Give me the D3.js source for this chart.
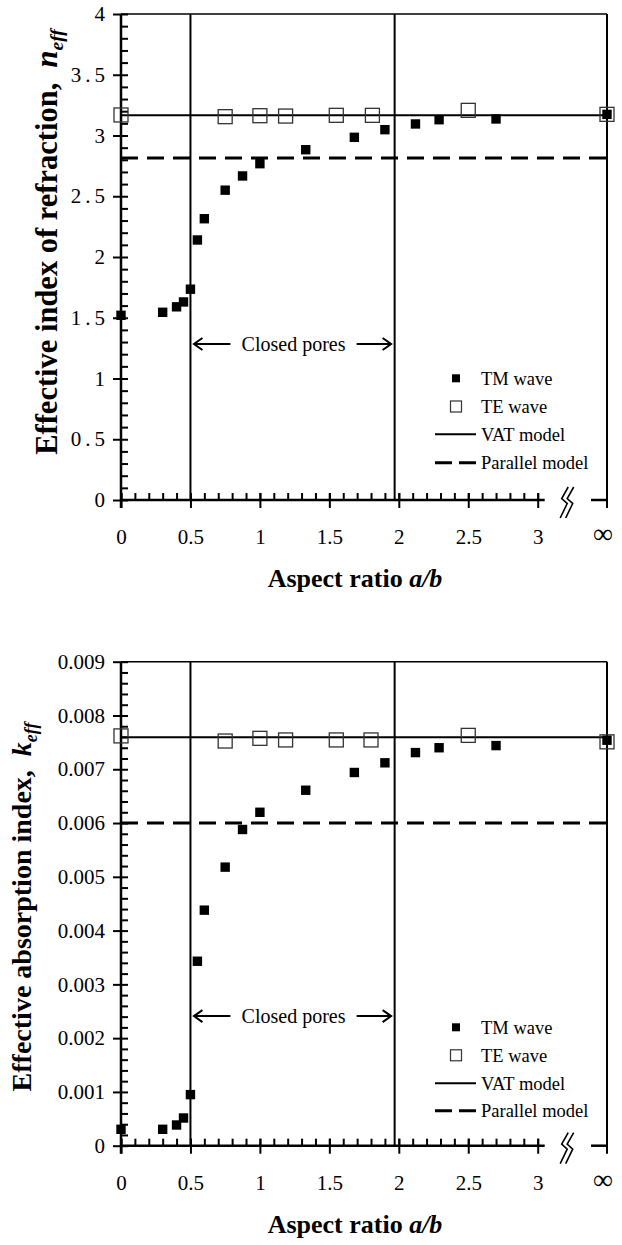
<!DOCTYPE html>
<html><head><meta charset="utf-8">
<script src="https://cdn.jsdelivr.net/npm/d3@7"></script>
<style>
body{margin:0;background:#fff}
svg{display:block}
text{font-family:"Liberation Serif","Times New Roman",serif;fill:#000}
</style>
</head><body>
<svg id="c" width="622" height="1245" font-family="Liberation Serif, Times New Roman, serif"></svg>
<script>
const INF = Infinity;
const FONT = "Liberation Serif, Times New Roman, serif";
// shared x axis
const xMajorTicks = [0, 0.5, 1, 1.5, 2, 2.5, 3];
const xTickLabels = ["0", "0.5", "1", "1.5", "2", "2.5", "3"];
const infLabel = "\u221E";
const closedPoresBounds = [0.5, 1.97];
const legendLabels = ["TM wave", "TE wave", "VAT model", "Parallel model"];

// top chart: effective index of refraction n_eff
const nTmX = [0, 0.3, 0.4, 0.45, 0.5, 0.55, 0.6, 0.75, 0.875, 1, 1.33, 1.68, 1.9, 2.12, 2.29, 2.7, INF];
const nTmY = [1.52, 1.545, 1.59, 1.63, 1.735, 2.14, 2.315, 2.55, 2.667, 2.768, 2.883, 2.985, 3.048, 3.095, 3.13, 3.136, 3.174];
const nTeX = [0, 0.75, 1, 1.185, 1.55, 1.81, 2.5, INF];
const nTeY = [3.169, 3.155, 3.163, 3.16, 3.166, 3.166, 3.207, 3.174];
const nVat = 3.167;
const nParallel = 2.815;
const nYTicks = [0, 0.5, 1, 1.5, 2, 2.5, 3, 3.5, 4];
const nYTickLabels = ["0", "0.5", "1", "1.5", "2", "2.5", "3", "3.5", "4"];

// bottom chart: effective absorption index k_eff
const kTmX = [0, 0.3, 0.4, 0.45, 0.5, 0.55, 0.6, 0.75, 0.875, 1, 1.33, 1.68, 1.9, 2.12, 2.29, 2.7, INF];
const kTmY = [0.000305, 0.000305, 0.000385, 0.000515, 0.00095, 0.00343, 0.00438, 0.00518, 0.00588, 0.0062, 0.00661, 0.00694, 0.00712, 0.00731, 0.0074, 0.00744, 0.00754];
const kTeX = [0, 0.75, 1, 1.185, 1.55, 1.8, 2.5, INF];
const kTeY = [0.00762, 0.007525, 0.007575, 0.007545, 0.007545, 0.007545, 0.00763, 0.00751];
const kVat = 0.007594;
const kParallel = 0.006;
const kYTicks = [0, 0.001, 0.002, 0.003, 0.004, 0.005, 0.006, 0.007, 0.008, 0.009];
const kYTickLabels = ["0", "0.001", "0.002", "0.003", "0.004", "0.005", "0.006", "0.007", "0.008", "0.009"];

const svg = d3.select("#c");

function chart(o) {
  const x = d3.scaleLinear().domain([0, 3]).range([121, 537.7]);
  const xInf = x(3) + 69.3;
  const xp = v => v === INF ? xInf : x(v);
  const y = d3.scaleLinear().domain(o.yDomain).range(o.yRange);
  const y0 = y(o.yDomain[0]), yTop = y(o.yDomain[1]);
  const g = svg.append("g").attr("font-family", FONT);
  const line = (x1, y1, x2, y2, w) => g.append("line").attr("x1", x1).attr("y1", y1).attr("x2", x2).attr("y2", y2)
      .attr("stroke", "#000").attr("stroke-width", w);

  // frame
  line(x(0), yTop, xInf, yTop, 1.6);
  line(xInf, yTop, xInf, y0 + 8, 2);
  // closed pores bounds
  closedPoresBounds.forEach(v => line(x(v), yTop, x(v), y0, 2));
  // VAT model
  line(x(0), y(o.vat), xInf, y(o.vat), 2);
  // parallel model
  line(x(0), y(o.parallel), xInf, y(o.parallel), 3).attr("stroke-dasharray", "17,9");

  // x axis minor ticks (inward)
  const minorX = d3.range(0, 31).map(i => i / 10);
  g.append("g").attr("transform", `translate(0,${y0})`)
    .call(d3.axisTop(x).tickValues(minorX).tickSize(7).tickFormat(""))
    .call(a => a.select(".domain").remove())
    .selectAll("line").attr("stroke-width", 2);
  const xa = g.append("g").attr("transform", `translate(0,${y0})`)
    .call(d3.axisBottom(x).tickValues(xMajorTicks).tickSize(8).tickPadding(21).tickFormat((d, i) => xTickLabels[i]));
  xa.attr("font-family", FONT).attr("font-size", 21);
  xa.select(".domain").remove();
  xa.selectAll("line").attr("stroke-width", 2).attr("y1", -7);
  xa.selectAll("text").attr("font-size", 21).attr("font-family", FONT);
  // x axis line
  line(x(0), y0, x(3) + 7, y0, 2.5);
  line(xInf - 16, y0, xInf, y0, 2.5);
  g.append("text").attr("x", xInf - 4).attr("y", y0 + 43).attr("text-anchor", "middle")
    .attr("font-size", 28).attr("font-family", FONT).text(infLabel);
  // break marks
  const bx = x(3) + 29, by = y0;
  [0, 5.5].forEach(dx => {
    g.append("path").attr("fill", "none").attr("stroke", "#000").attr("stroke-width", 1.6)
      .attr("d", `M${bx + dx + 1.5},${by - 13} L${bx + dx - 5},${by - 1.5} L${bx + dx + 0.5},${by + 3.5} L${bx + dx - 6.5},${by + 18}`);
  });

  // y axis
  g.append("g").attr("transform", `translate(${x(0)},0)`)
    .call(d3.axisRight(y).tickValues(o.yMinor).tickSize(7).tickFormat(""))
    .call(a => a.select(".domain").remove())
    .selectAll("line").attr("stroke-width", 2);
  const ya = g.append("g").attr("transform", `translate(${x(0)},0)`)
    .call(d3.axisLeft(y).tickValues(o.yTicks).tickSize(8).tickPadding(8).tickFormat((d, i) => o.yTickLabels[i]));
  ya.attr("font-family", FONT).attr("font-size", 21);
  ya.select(".domain").remove();
  ya.selectAll("line").attr("stroke-width", 2);
  ya.selectAll("text").attr("font-size", 21).attr("font-family", FONT);
  if (o.wideDecimals) {
    ya.selectAll("text").filter(t => String(t).includes(".")).attr("letter-spacing", 4).attr("x", -12);
  }
  line(x(0), y0 + 8, x(0), yTop, 2.5);

  // markers
  const te = o.teX.map((v, i) => [v, o.teY[i]]);
  const tm = o.tmX.map((v, i) => [v, o.tmY[i]]);
  g.selectAll(".te").data(te).join("rect").attr("class", "te")
    .attr("x", d => xp(d[0]) - 7).attr("y", d => y(d[1]) - 7).attr("width", 14).attr("height", 14)
    .attr("fill", "none").attr("stroke", "#333").attr("stroke-width", 1.3);
  g.selectAll(".tm").data(tm).join("rect").attr("class", "tm")
    .attr("x", d => xp(d[0]) - 4.7).attr("y", d => y(d[1]) - 4.7).attr("width", 9.4).attr("height", 9.4)
    .attr("fill", "#000");

  // closed pores annotation
  const ay = y(o.arrowY);
  const xl = x(closedPoresBounds[0]), xr = x(closedPoresBounds[1]);
  const arrow = (tail, tip) => {
    const s = Math.sign(tail - tip);
    g.append("path").attr("fill", "none").attr("stroke", "#000").attr("stroke-width", 2)
      .attr("d", `M${tail},${ay} L${tip + s},${ay} M${tip + s * 10},${ay - 6} L${tip + s * 1.5},${ay} L${tip + s * 10},${ay + 6}`);
  };
  arrow(xl + 40, xl + 2);
  arrow(xr - 38, xr - 2);
  g.append("text").attr("x", (xl + xr) / 2 + 1).attr("y", ay).attr("dy", "0.35em").attr("text-anchor", "middle")
    .attr("font-size", 20).attr("font-family", FONT).text("Closed pores");

  // legend
  const lx = 456;
  o.legendY.forEach((ly, i) => {
    const yy = y0 + ly;
    if (i === 0) g.append("rect").attr("x", lx - 4).attr("y", yy - 4).attr("width", 8).attr("height", 8).attr("fill", "#000");
    if (i === 1) g.append("rect").attr("x", lx - 5.5).attr("y", yy - 5.5).attr("width", 11).attr("height", 11)
      .attr("fill", "none").attr("stroke", "#333").attr("stroke-width", 1.2);
    if (i === 2) line(lx - 21, yy, lx + 20, yy, 2);
    if (i === 3) line(lx - 21, yy, lx + 20, yy, 3).attr("stroke-dasharray", "17,7");
    g.append("text").attr("x", lx + 25).attr("y", yy).attr("dy", "0.35em").attr("font-size", 18.5)
      .attr("font-family", FONT).text(legendLabels[i]);
  });

  // axis titles
  const xt = g.append("text").attr("x", 355).attr("y", y0 + 87).attr("text-anchor", "middle")
    .attr("font-size", 26).attr("font-weight", "bold").attr("font-family", FONT);
  xt.append("tspan").text("Aspect ratio ");
  xt.append("tspan").attr("font-style", "italic").text("a/b");

  const yt = g.append("text").attr("transform", `translate(${o.titleX},${o.titleY}) rotate(-90)`)
    .attr("text-anchor", "middle").attr("font-size", o.titleSize).attr("font-weight", "bold").attr("font-family", FONT);
  yt.append("tspan").text(o.titleText + "\u00A0 ");
  yt.append("tspan").attr("font-style", "italic").text(o.titleSym);
  yt.append("tspan").attr("font-style", "italic").attr("font-size", o.titleSize * 0.64).attr("dy", 6).text("eff");
}

chart({
  yDomain: [0, 4], yRange: [500, 14],
  yTicks: nYTicks, yTickLabels: nYTickLabels, yMinor: d3.range(0, 41).map(i => i / 10),
  tmX: nTmX, tmY: nTmY, teX: nTeX, teY: nTeY, vat: nVat, parallel: nParallel,
  arrowY: 1.284, legendY: [-121.7, -93.5, -65.7, -37.3],
  titleX: 57, titleY: 242, titleSize: 30.5, titleText: "Effective index of refraction,", titleSym: "n",
  wideDecimals: true
});
chart({
  yDomain: [0, 0.009], yRange: [1145.7, 661.7],
  yTicks: kYTicks, yTickLabels: kYTickLabels, yMinor: d3.range(0, 46).map(i => i * 0.0002),
  tmX: kTmX, tmY: kTmY, teX: kTeX, teY: kTeY, vat: kVat, parallel: kParallel,
  arrowY: 0.00241, legendY: [-118.4, -90.4, -62.4, -35],
  titleX: 31, titleY: 907, titleSize: 28, titleText: "Effective absorption index,", titleSym: "k",
  wideDecimals: false
});
</script>
</body></html>
